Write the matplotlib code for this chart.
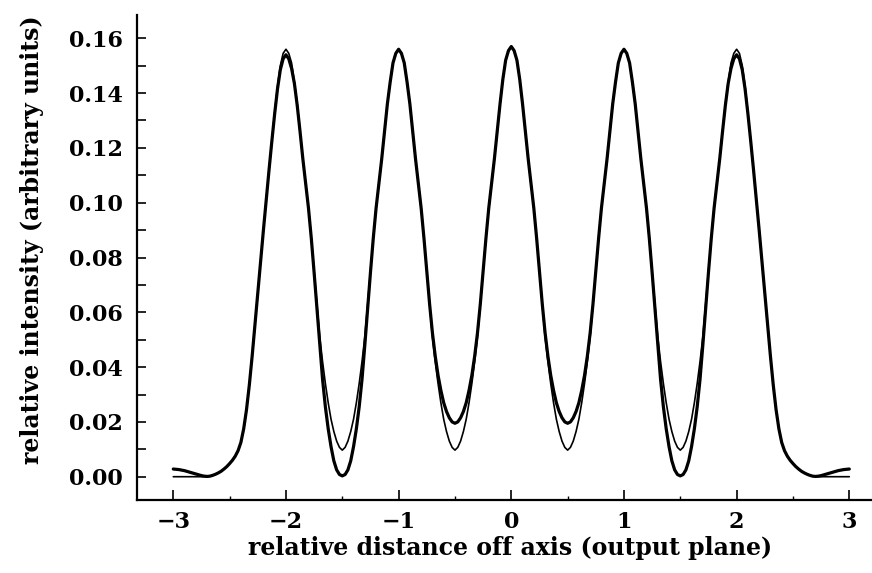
import matplotlib
matplotlib.use("Agg")
import matplotlib.pyplot as plt
import numpy as np
from matplotlib.ticker import MultipleLocator

# sample positions: -3 .. 3 every 0.025
x = np.linspace(-3.0, 3.0, 241)

# thin curve
thin = [
    0.0000, 0.0000, 0.0000, 0.0000, 0.0000, 0.0000, 0.0000, 0.0000, 0.0000, 0.0000,
    0.0000, 0.0000, 0.0001, 0.0002, 0.0005, 0.0009, 0.0014, 0.0020, 0.0028, 0.0037,
    0.0048, 0.0060, 0.0075, 0.0095, 0.0125, 0.0175, 0.0245, 0.0335, 0.0440, 0.0555,
    0.0670, 0.0785, 0.0900, 0.1010, 0.1120, 0.1225, 0.1330, 0.1425, 0.1500, 0.1545,
    0.1560, 0.1545, 0.1510, 0.1440, 0.1360, 0.1260, 0.1160, 0.1070, 0.0980, 0.0870,
    0.0750, 0.0630, 0.0510, 0.0420, 0.0340, 0.0270, 0.0210, 0.0165, 0.0130, 0.0107,
    0.0097, 0.0107, 0.0130, 0.0165, 0.0210, 0.0270, 0.0340, 0.0420, 0.0510, 0.0630,
    0.0750, 0.0870, 0.0980, 0.1070, 0.1160, 0.1260, 0.1360, 0.1440, 0.1510, 0.1545,
    0.1560, 0.1545, 0.1510, 0.1440, 0.1360, 0.1260, 0.1160, 0.1070, 0.0980, 0.0870,
    0.0750, 0.0630, 0.0510, 0.0420, 0.0340, 0.0270, 0.0210, 0.0165, 0.0130, 0.0107,
    0.0097, 0.0107, 0.0130, 0.0165, 0.0210, 0.0270, 0.0340, 0.0420, 0.0510, 0.0630,
    0.0750, 0.0870, 0.0980, 0.1070, 0.1160, 0.1260, 0.1360, 0.1450, 0.1520, 0.1555,
    0.1570, 0.1555, 0.1520, 0.1450, 0.1360, 0.1260, 0.1160, 0.1070, 0.0980, 0.0870,
    0.0750, 0.0630, 0.0510, 0.0420, 0.0340, 0.0270, 0.0210, 0.0165, 0.0130, 0.0107,
    0.0097, 0.0107, 0.0130, 0.0165, 0.0210, 0.0270, 0.0340, 0.0420, 0.0510, 0.0630,
    0.0750, 0.0870, 0.0980, 0.1070, 0.1160, 0.1260, 0.1360, 0.1440, 0.1510, 0.1545,
    0.1560, 0.1545, 0.1510, 0.1440, 0.1360, 0.1260, 0.1160, 0.1070, 0.0980, 0.0870,
    0.0750, 0.0630, 0.0510, 0.0420, 0.0340, 0.0270, 0.0210, 0.0165, 0.0130, 0.0107,
    0.0097, 0.0107, 0.0130, 0.0165, 0.0210, 0.0270, 0.0340, 0.0420, 0.0510, 0.0630,
    0.0750, 0.0870, 0.0980, 0.1070, 0.1160, 0.1260, 0.1360, 0.1440, 0.1510, 0.1545,
    0.1560, 0.1545, 0.1500, 0.1425, 0.1330, 0.1225, 0.1120, 0.1010, 0.0900, 0.0785,
    0.0670, 0.0555, 0.0440, 0.0335, 0.0245, 0.0175, 0.0125, 0.0095, 0.0075, 0.0060,
    0.0048, 0.0037, 0.0028, 0.0020, 0.0014, 0.0009, 0.0005, 0.0002, 0.0001, 0.0000,
    0.0000, 0.0000, 0.0000, 0.0000, 0.0000, 0.0000, 0.0000, 0.0000, 0.0000, 0.0000,
    0.0000]

# thick curve
thick = [
    0.0028, 0.0027, 0.0026, 0.0024, 0.0022, 0.0019, 0.0016, 0.0013, 0.0010, 0.0007,
    0.0004, 0.0002, 0.0001, 0.0002, 0.0005, 0.0009, 0.0014, 0.0020, 0.0028, 0.0037,
    0.0048, 0.0060, 0.0075, 0.0095, 0.0125, 0.0175, 0.0245, 0.0335, 0.0440, 0.0555,
    0.0670, 0.0785, 0.0900, 0.1010, 0.1120, 0.1225, 0.1325, 0.1415, 0.1485, 0.1525,
    0.1540, 0.1525, 0.1490, 0.1435, 0.1355, 0.1260, 0.1160, 0.1070, 0.0980, 0.0870,
    0.0745, 0.0615, 0.0480, 0.0355, 0.0255, 0.0175, 0.0110, 0.0058, 0.0025, 0.0008,
    0.0003, 0.0008, 0.0025, 0.0058, 0.0110, 0.0175, 0.0255, 0.0355, 0.0480, 0.0615,
    0.0745, 0.0870, 0.0980, 0.1070, 0.1160, 0.1260, 0.1360, 0.1440, 0.1510, 0.1545,
    0.1560, 0.1545, 0.1510, 0.1440, 0.1360, 0.1260, 0.1160, 0.1070, 0.0980, 0.0870,
    0.0750, 0.0630, 0.0525, 0.0440, 0.0370, 0.0315, 0.0270, 0.0238, 0.0215, 0.0200,
    0.0195, 0.0200, 0.0215, 0.0238, 0.0270, 0.0315, 0.0370, 0.0440, 0.0525, 0.0630,
    0.0750, 0.0870, 0.0980, 0.1070, 0.1160, 0.1260, 0.1360, 0.1450, 0.1520, 0.1555,
    0.1570, 0.1555, 0.1520, 0.1450, 0.1360, 0.1260, 0.1160, 0.1070, 0.0980, 0.0870,
    0.0750, 0.0630, 0.0525, 0.0440, 0.0370, 0.0315, 0.0270, 0.0238, 0.0215, 0.0200,
    0.0195, 0.0200, 0.0215, 0.0238, 0.0270, 0.0315, 0.0370, 0.0440, 0.0525, 0.0630,
    0.0750, 0.0870, 0.0980, 0.1070, 0.1160, 0.1260, 0.1360, 0.1440, 0.1510, 0.1545,
    0.1560, 0.1545, 0.1510, 0.1440, 0.1360, 0.1260, 0.1160, 0.1070, 0.0980, 0.0870,
    0.0745, 0.0615, 0.0480, 0.0355, 0.0255, 0.0175, 0.0110, 0.0058, 0.0025, 0.0008,
    0.0003, 0.0008, 0.0025, 0.0058, 0.0110, 0.0175, 0.0255, 0.0355, 0.0480, 0.0615,
    0.0745, 0.0870, 0.0980, 0.1070, 0.1160, 0.1260, 0.1355, 0.1435, 0.1490, 0.1525,
    0.1540, 0.1525, 0.1485, 0.1415, 0.1325, 0.1225, 0.1120, 0.1010, 0.0900, 0.0785,
    0.0670, 0.0555, 0.0440, 0.0335, 0.0245, 0.0175, 0.0125, 0.0095, 0.0075, 0.0060,
    0.0048, 0.0037, 0.0028, 0.0020, 0.0014, 0.0009, 0.0005, 0.0002, 0.0001, 0.0002,
    0.0004, 0.0007, 0.0010, 0.0013, 0.0016, 0.0019, 0.0022, 0.0024, 0.0026, 0.0027,
    0.0028]

xticks = [-3, -2, -1, 0, 1, 2, 3]
xticklabels = ["\u22123", "\u22122", "\u22121", "0", "1", "2", "3"]
yticks = [0.00, 0.02, 0.04, 0.06, 0.08, 0.10, 0.12, 0.14, 0.16]
yticklabels = ["0.00", "0.02", "0.04", "0.06", "0.08", "0.10", "0.12", "0.14", "0.16"]

plt.rcParams['font.family'] = ['DejaVu Serif']
plt.rcParams['font.weight'] = 'bold'

fig = plt.figure(figsize=(8.72, 5.73), dpi=100)
ax = fig.add_axes([137/872, 1 - 500/573, 1 - 137/872, (500 - 15)/573])

ax.plot(x, thin, color='black', lw=1.2, solid_capstyle='round', solid_joinstyle='round')
ax.plot(x, thick, color='black', lw=2.3, solid_capstyle='round', solid_joinstyle='round')

ax.set_xlim(-3.322, 3.2015)
ax.set_ylim(-0.0085, 0.1685)

for s in ['top', 'right']:
    ax.spines[s].set_visible(False)
for s in ['left', 'bottom']:
    ax.spines[s].set_linewidth(1.6)

ax.set_xticks(xticks)
ax.set_xticklabels(xticklabels)
ax.set_yticks(yticks)
ax.set_yticklabels(yticklabels)
ax.xaxis.set_minor_locator(MultipleLocator(0.5))
ax.yaxis.set_minor_locator(MultipleLocator(0.01))
ax.tick_params(axis='x', which='major', direction='in', length=7, width=1.2, labelsize=16, pad=8)
ax.tick_params(axis='x', which='minor', direction='in', length=3, width=1.0)
ax.tick_params(axis='y', which='both', direction='in', length=6.5, width=1.2, labelsize=16, pad=10)

ax.set_xlabel("relative distance off axis (output plane)", fontsize=17, fontweight='bold')
ax.set_ylabel("relative intensity (arbitrary units)", fontsize=17, fontweight='bold')
ax.xaxis.set_label_coords(0.5075, -0.074)
ax.yaxis.set_label_coords(-0.1265, 0.536)

fig.savefig("out.png", dpi=100)
